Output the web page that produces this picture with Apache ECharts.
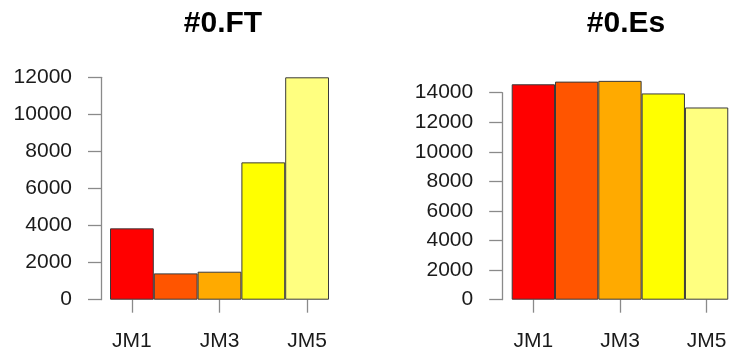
<!DOCTYPE html>
<html>
<head>
<meta charset="utf-8">
<script src="https://cdn.jsdelivr.net/npm/echarts@6/dist/echarts.min.js"></script>
<style>
  html, body { margin: 0; padding: 0; background: #fff; }
  #chart { width: 729px; height: 354px; }
</style>
</head>
<body>
<div id="chart"></div>
<script>
// Two bar panels: first-generation counts for FT and Es per line
const categories = ['JM1', 'JM2', 'JM3', 'JM4', 'JM5'];
const ftValues = [3850, 1420, 1510, 7410, 12000];
const esValues = [14570, 14750, 14800, 13950, 13000];
const ftTicks = [0, 2000, 4000, 6000, 8000, 10000, 12000];
const esTicks = [0, 2000, 4000, 6000, 8000, 10000, 12000, 14000];
const palette = ['#FF0000', '#FF5500', '#FFAA00', '#FFFF00', '#FFFF80'];

const FONT = '"Liberation Sans", Arial, sans-serif';
const axisGray = '#8a8a8a';
const textColor = '#1a1a1a';

function barData(values) {
  return values.map((v, i) => ({
    value: v,
    itemStyle: { color: palette[i] }
  }));
}

function catAxis(gridIndex) {
  return {
    type: 'category',
    gridIndex: gridIndex,
    data: categories,
    axisLine: { show: false },
    axisTick: { show: true, alignWithLabel: true, length: 13, inside: false,
                lineStyle: { color: axisGray, width: 1.3 } },
    axisLabel: { interval: 1, margin: 31, color: textColor, fontSize: 21, fontFamily: FONT },
    splitLine: { show: false }
  };
}

function valAxis(gridIndex, max, show) {
  return {
    type: 'value',
    gridIndex: gridIndex,
    min: 0,
    max: max,
    interval: 2000,
    offset: 9,
    show: show,
    axisLine: { show: true, lineStyle: { color: axisGray, width: 1.3 } },
    axisTick: { show: true, length: 13, lineStyle: { color: axisGray, width: 1.3 } },
    axisLabel: { margin: 29, color: textColor, fontSize: 21, fontFamily: FONT,
                 formatter: v => String(v) },
    splitLine: { show: false }
  };
}

const chart = echarts.init(document.getElementById('chart'), null, { renderer: 'canvas' });

const ftMax = ftTicks[ftTicks.length - 1];
const esMax = esTicks[esTicks.length - 1];

chart.setOption({
  animation: false,
  backgroundColor: '#ffffff',
  title: [
    { text: '#0.FT', left: 218, top: 4, textAlign: 'center',
      textStyle: { fontSize: 30, fontWeight: 'bold', color: '#000', fontFamily: FONT } },
    { text: '#0.Es', left: 621, top: 4, textAlign: 'center',
      textStyle: { fontSize: 30, fontWeight: 'bold', color: '#000', fontFamily: FONT } }
  ],
  grid: [
    // FT panel
    { left: 110, top: 77.3, width: 219, height: 222.4 },
    // Es panel: axis frame (0..14000)
    { left: 511.7, top: 92.7, width: 221, height: 207 },
    // Es panel: bar frame, same scale but taller so bars above 14000 are not clipped
    { left: 511.7, top: 299.7 - 207 * 16000 / 14000, width: 221, height: 207 * 16000 / 14000 }
  ],
  xAxis: [
    catAxis(0),
    { type: 'category', gridIndex: 1, data: categories, show: false },
    catAxis(2)
  ],
  yAxis: [
    valAxis(0, ftMax, true),
    Object.assign(valAxis(1, esMax, true), { offset: 9.5 }),
    valAxis(2, 16000, false)
  ],
  series: [
    {
      type: 'bar', xAxisIndex: 0, yAxisIndex: 0,
      data: barData(ftValues),
      barCategoryGap: '0%',
      itemStyle: { borderColor: '#3a3a3a', borderWidth: 1 }
    },
    {
      type: 'bar', xAxisIndex: 2, yAxisIndex: 2,
      data: barData(esValues),
      barCategoryGap: '0%',
      itemStyle: { borderColor: '#3a3a3a', borderWidth: 1 }
    }
  ]
});
</script>
</body>
</html>
